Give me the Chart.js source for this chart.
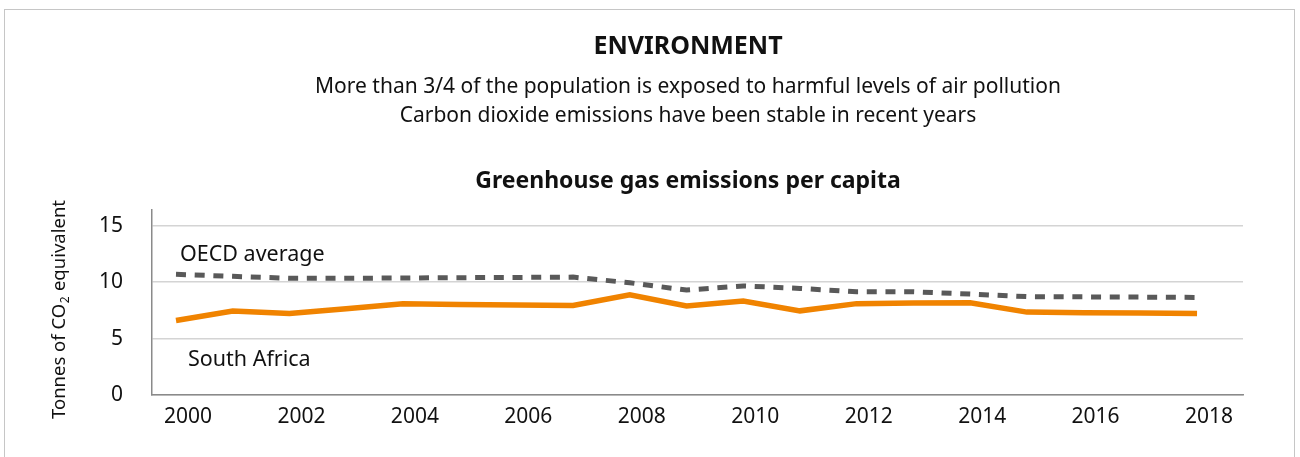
<!DOCTYPE html>
<html>
<head>
<meta charset="utf-8">
<script src="https://cdn.jsdelivr.net/npm/chart.js@4/dist/chart.umd.min.js"></script>
<style>
  html, body { margin: 0; padding: 0; background: #fff; }
  #wrap { position: relative; width: 1300px; height: 457px; overflow: hidden; }
  #frame { position: absolute; left: 4px; top: 9px; width: 1291px; height: 470px;
           border: 1.5px solid #c6c6c6; box-sizing: border-box; }
  canvas { position: absolute; left: 0; top: 0; }
</style>
</head>
<body>
<div id="wrap">
  <div id="frame"></div>
  <canvas id="chart" width="1300" height="457"></canvas>
</div>
<script>
// Greenhouse gas emissions per capita, tonnes of CO2 equivalent
const years = [2000, 2001, 2002, 2003, 2004, 2005, 2006, 2007, 2008, 2009,
               2010, 2011, 2012, 2013, 2014, 2015, 2016, 2017, 2018];
const southAfrica = [6.6, 7.45, 7.22, 7.65, 8.08, 8.02, 7.98, 7.93, 8.88, 7.9,
                     8.33, 7.46, 8.1, 8.15, 8.18, 7.35, 7.3, 7.27, 7.23];
const oecdAverage = [10.7, 10.52, 10.35, 10.35, 10.37, 10.4, 10.42, 10.45, 9.95, 9.3,
                     9.67, 9.45, 9.15, 9.15, 8.95, 8.72, 8.7, 8.68, 8.65];
const xTickYears = [2000, 2002, 2004, 2006, 2008, 2010, 2012, 2014, 2016, 2018];
const yTickValues = [0, 5, 10, 15];

const headline = "ENVIRONMENT";
const subtitleLines = [
  "More than 3/4 of the population is exposed to harmful levels of air pollution",
  "Carbon dioxide emissions have been stable in recent years"
];
const chartTitle = "Greenhouse gas emissions per capita";
const yTitleParts = ["Tonnes of CO", "2", " equivalent"];
const seriesNames = ["South Africa", "OECD average"];
// where each series name sits, in data units (year, tonnes)
const seriesNameAnchors = [[2000.21, 3.1], [2000.07, 12.42]];

const FONT = "'Noto Sans', sans-serif";
const ORANGE = "rgb(240,131,0)";
const GREY = "#595959";

const toPoints = vals => years.map((yr, i) => ({ x: yr, y: vals[i] }));

const textPlugin = {
  id: "texts",
  afterDraw(chart) {
    const ctx = chart.ctx;
    const cx = 688;
    ctx.save();
    ctx.fillStyle = "#111";
    ctx.textAlign = "center";
    ctx.textBaseline = "middle";
    ctx.font = "bold 25px " + FONT;
    ctx.fillText(headline, cx, 47);
    ctx.font = "21px " + FONT;
    ctx.fillText(subtitleLines[0], cx, 87.5);
    ctx.fillText(subtitleLines[1], cx, 116.5);
    ctx.font = "bold 23px " + FONT;
    ctx.fillText(chartTitle, cx, 181.5);

    // series names placed through the scales
    const xs = chart.scales.x, ys = chart.scales.y;
    ctx.textAlign = "left";
    ctx.font = "21.5px " + FONT;
    seriesNames.forEach((name, i) => {
      const [ax, ay] = seriesNameAnchors[i];
      ctx.fillText(name, xs.getPixelForValue(ax), ys.getPixelForValue(ay));
    });

    // rotated y-axis title with subscript 2
    ctx.translate(59, 310);
    ctx.rotate(-Math.PI / 2);
    const big = "18.5px " + FONT, small = "12px " + FONT;
    ctx.font = big;
    const w0 = ctx.measureText(yTitleParts[0]).width;
    const w2 = ctx.measureText(yTitleParts[2]).width;
    ctx.font = small;
    const w1 = ctx.measureText(yTitleParts[1]).width;
    let x = -(w0 + w1 + w2) / 2;
    ctx.textAlign = "left";
    ctx.textBaseline = "alphabetic";
    ctx.font = big;
    ctx.fillText(yTitleParts[0], x, 6);
    x += w0;
    ctx.font = small;
    ctx.fillText(yTitleParts[1], x + 0.5, 10);
    x += w1 + 1;
    ctx.font = big;
    ctx.fillText(yTitleParts[2], x, 6);
    ctx.restore();
  }
};

new Chart(document.getElementById("chart"), {
  type: "line",
  data: {
    datasets: [
      {
        label: seriesNames[0],
        data: toPoints(southAfrica),
        borderColor: ORANGE,
        borderWidth: 5.5,
        pointRadius: 0,
        tension: 0,
        borderJoinStyle: "miter",
        borderCapStyle: "butt"
      },
      {
        label: seriesNames[1],
        data: toPoints(oecdAverage),
        borderColor: GREY,
        borderWidth: 5,
        borderDash: [10, 8.7],
        pointRadius: 0,
        tension: 0,
        borderCapStyle: "butt"
      }
    ]
  },
  options: {
    responsive: false,
    animation: false,
    devicePixelRatio: 1,
    layout: { padding: { left: 0, right: 57, top: 210, bottom: 0 } },
    plugins: { legend: { display: false }, tooltip: { enabled: false }, title: { display: false } },
    scales: {
      x: {
        type: "linear",
        min: 1999.577,
        max: 2018.81,
        afterBuildTicks(scale) { scale.ticks = xTickYears.map(v => ({ value: v })); },
        afterFit(scale) { scale.height = 62; },
        grid: { display: false, drawTicks: false },
        border: { display: true, color: "#8a8a8a", width: 1.5 },
        ticks: {
          autoSkip: false,
          maxRotation: 0,
          labelOffset: 12,
          padding: 9,
          color: "#111",
          font: { family: FONT, size: 21 },
          callback: v => String(v)
        }
      },
      y: {
        min: 0,
        max: 16.4,
        afterBuildTicks(scale) { scale.ticks = yTickValues.map(v => ({ value: v })); },
        afterFit(scale) { scale.width = 152; },
        grid: { color: "#d4d4d4", lineWidth: 1.5, drawTicks: false },
        border: { display: true, color: "#8a8a8a", width: 1.5 },
        ticks: {
          padding: 29,
          color: "#111",
          font: { family: FONT, size: 21 },
          callback: v => String(v)
        }
      }
    }
  },
  plugins: [textPlugin]
});
</script>
</body>
</html>
